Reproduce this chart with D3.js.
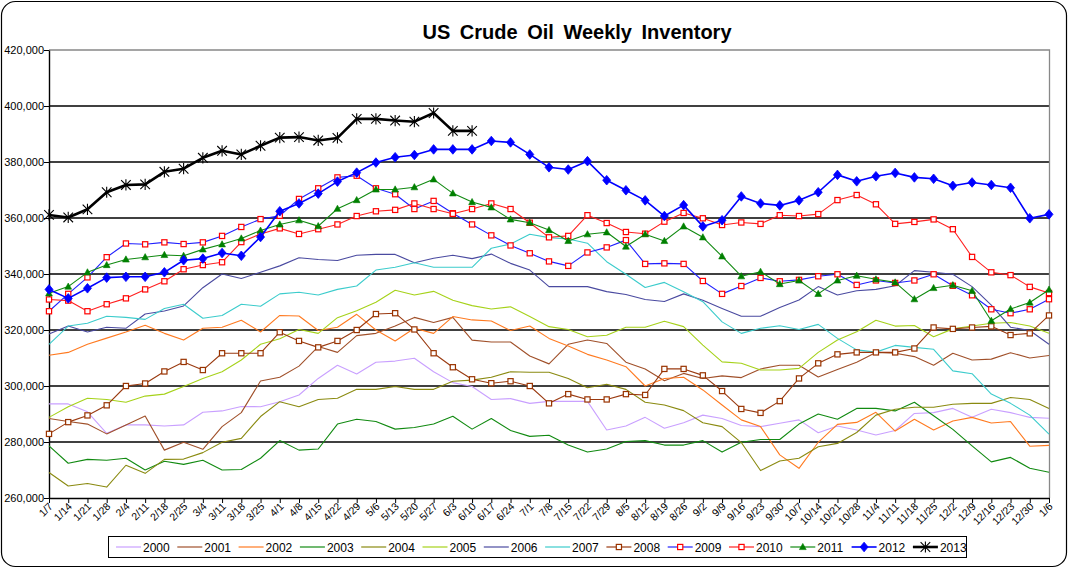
<!DOCTYPE html>
<html><head><meta charset="utf-8">
<script src="https://cdn.jsdelivr.net/npm/d3@7"></script>
<style>
body{margin:0;background:#fff;}
svg text{font-family:"Liberation Sans",Arial,sans-serif;}
</style></head>
<body><svg id="c" width="1070" height="570"></svg>
<script>
const categories = ["1/7","1/14","1/21","1/28","2/4","2/11","2/18","2/25","3/4","3/11","3/18","3/25","4/1","4/8","4/15","4/22","4/29","5/6","5/13","5/20","5/27","6/3","6/10","6/17","6/24","7/1","7/8","7/15","7/22","7/29","8/5","8/12","8/19","8/26","9/2","9/9","9/16","9/23","9/30","10/7","10/14","10/21","10/28","11/4","11/11","11/18","11/25","12/2","12/9","12/16","12/23","12/30","1/6"];
const yTicks = [260,280,300,320,340,360,380,400,420]; // thousands of barrels

const s2000 = [293.6,293.6,290.8,283.1,286.1,286.1,285.7,286.1,290.6,291.1,292.7,292.6,294.4,296.8,302.7,307.4,304.3,308.5,308.9,309.9,305.1,301.2,299.8,295.2,295.5,293.8,294.5,294.5,294.5,284.3,285.7,288.8,284.9,286.9,289.6,288.4,285.9,285.5,286.7,287.9,283.3,285.7,284.3,282.5,284.1,290.2,290.5,292,288.8,291.7,290.5,288.8,288.5];
const s2001 = [288.4,287.3,286.4,282.9,286.1,289.3,277.1,279.9,277.4,285.5,290.5,301.8,303.1,307.1,314.1,312,318,318.8,321.4,324.5,322.7,324.5,316.4,315.7,315.7,310.7,307.9,314.9,316.4,315.2,308.5,306.1,301.9,304.5,302.7,303.6,303,306.1,307.4,307.4,303.2,305.9,308.5,312,311.7,310.5,307.4,311.7,309.3,309.6,311.9,310,310.9];
const s2002 = [311,312,314.9,317.1,319.3,321.7,318.8,316.4,320.6,321,323.5,319.3,325.2,325,319.8,321,325.6,320,316.1,320.6,318.8,324.8,323.6,323.2,319.8,321.4,317,314.3,311.3,309.3,306.9,300,302.7,303.1,298.6,293.2,287.9,285.5,275.4,270.6,279.9,286.3,287,290.6,283.9,288.1,284.3,287.5,288.8,286.8,287.3,278.5,278.8];
const s2003 = [278.6,272.4,273.8,273.5,274.2,270,273.1,272,273.5,270,270.2,274.2,280.5,277.1,277.5,286.4,288.1,287.3,284.6,285.2,286.4,289.2,284.6,288.4,284.1,282,282.4,278.9,276.4,277.5,280.2,280.5,278.9,278.9,280.5,276.4,279.9,280.9,280.9,286.4,290,288.1,292,292,291.1,294.2,289.4,284.5,278.6,272.9,274.5,270.6,269.2];
const s2004 = [269.1,264.3,265.2,263.9,271.7,268.8,273.8,273.9,276.2,279.9,281.3,289.1,294.4,292.6,295.2,295.6,298.8,298.8,299.8,298.8,298.8,301.7,302.1,303.1,305.1,304.9,304.9,302.7,299.4,300.6,298.8,294.2,293.2,291.2,286.9,285.5,279.8,269.8,273.2,274.2,278.3,279.5,283.4,289.6,291.7,292.4,292.4,293.5,293.8,293.8,295.9,295.2,292];
const s2005 = [288.8,292.6,295.6,295.2,294.2,296.4,297.1,299.8,302.7,305.1,309.3,314.9,316.9,320.2,318.8,324.4,326.9,329.9,334.2,332.5,333.8,330.6,328.7,327.5,328.3,324.8,321.2,320.2,317.6,318.1,321,321,323.1,321.2,314.6,308.6,308.1,305.7,305.7,306.3,312,316.4,319.4,323.5,321.4,321.6,317.6,320.4,321.4,322.4,322.7,321.4,318.8];
const s2006 = [318.6,321.4,319.3,321,320.6,325.7,326.8,328.6,335.1,340,338.4,340.6,342.9,345.8,345.2,344.8,346.7,347,347,344,345.6,346.7,345.5,347.1,343.8,341.4,335.5,335.5,335.5,333.7,332.7,330.9,330.2,332.9,330.6,327.7,324.9,324.9,328,330.7,335.5,332.5,334,334.5,335.8,341.2,340.6,339.9,335.5,328.9,321,319.8,314.9];
const s2007 = [314.9,321.4,322.4,324.9,324.5,323.8,327.7,329.2,324.2,325.2,329.2,328.5,332.9,333.5,332.5,334.5,335.7,341.4,342.4,344,342.4,342.4,342.4,349.2,350.7,354.2,353,352.5,351,344.4,339.9,335.2,337,333.7,330.1,322.9,318.8,320.6,321.5,320.2,322,317,312.9,312.1,314.5,313.8,313.1,305.4,304.4,297.1,293.8,289.6,282.8];
const s2008 = [282.9,287.1,289.5,293.1,300,300.9,305.2,308.6,305.7,311.7,311.7,311.7,319.2,316.1,313.8,316.1,320,325.7,326,320.2,311.7,306.7,302.4,301,301.7,300,293.8,297.1,295.2,295.2,297.1,296.8,306.1,306.1,303.8,298.2,291.8,290.4,294.6,302.7,308.1,311.3,312,312,312,313.4,320.9,320.4,320.9,321.3,318.2,318.8,325.2];
const s2009 = [326.7,332.9,338.8,346,350.9,350.6,351.3,350.7,351.3,353.6,356.8,359.6,360.8,366.8,370.6,374.5,375.1,370.6,368.5,363.2,366.1,361.7,357.7,353.8,350.2,347.4,344.5,342.9,347.7,349.5,352.1,343.6,343.8,343.6,337.5,332.9,335.7,338.6,337.4,337.9,339.2,339.9,336.1,337.7,336.8,337.7,339.9,335.8,332.4,327.4,326,327.4,331];
const s2010 = [330.9,330.5,326.7,329.2,331.3,334.5,337.4,341.7,343.2,344.2,351.4,354.3,356.3,354.3,356,357.7,360.7,362.4,362.9,365.2,363.2,361.5,363.2,365.2,363.2,358.3,353.1,353.6,361,358.2,355,354.4,358.7,361.8,359.9,357.5,358.4,357.9,361,360.7,361.4,366.4,368.2,364.9,357.9,358.6,359.5,356,346.1,340.6,339.6,335.4,333.2];
const s2011 = [333.1,335.5,340.6,343.2,345.2,346,346.8,346.5,348.8,350.6,352.7,355.5,357.7,359.2,357.1,363.3,366.4,370.2,370.2,371,373.8,368.8,365.7,363.8,359.5,358.3,355.7,351.8,354.2,354.9,349.8,354.2,351.8,357,353.1,346.3,339.2,340.8,336.4,337.7,332.9,337.7,339.4,338.1,337,331,335,336,334,323.3,327.5,329.8,334.4];
const s2012 = [334.5,331.3,334.9,338.7,339,339,340.6,344.9,345.5,347.5,346.5,353.2,362.4,365.2,368.7,373,376.2,379.8,381.7,382.5,384.5,384.5,384.5,387.5,387,382.7,378.1,377.3,380.3,373.5,369.9,366.3,360.7,364.6,357,359.2,367.7,365.2,364.5,366.3,369.2,375.4,373.1,374.9,376.1,374.5,374,371.5,372.7,371.8,370.8,359.9,361.3];
const s2013 = [361.1,360.2,363.1,369.2,371.8,372,376.5,377.6,381.5,384,382.7,385.8,388.7,388.9,387.7,388.6,395.4,395.4,394.8,394.4,397.5,391.1,391.1];

const series = [
  {name:"2000", data:s2000, line:"#C9A0FF", w:1.1, marker:null},
  {name:"2001", data:s2001, line:"#A0502A", w:1.1, marker:null},
  {name:"2002", data:s2002, line:"#FF7A20", w:1.1, marker:null},
  {name:"2003", data:s2003, line:"#118A11", w:1.1, marker:null},
  {name:"2004", data:s2004, line:"#8A8A10", w:1.1, marker:null},
  {name:"2005", data:s2005, line:"#A6D21A", w:1.1, marker:null},
  {name:"2006", data:s2006, line:"#4A4AA0", w:1.1, marker:null},
  {name:"2007", data:s2007, line:"#3CCCCC", w:1.1, marker:null},
  {name:"2008", data:s2008, line:"#9A3A10", w:1.1, marker:"sq", mStroke:"#993300", mFill:"#fff"},
  {name:"2009", data:s2009, line:"#2020FF", w:1.1, marker:"sq", mStroke:"#FF0000", mFill:"#fff"},
  {name:"2010", data:s2010, line:"#FF2020", w:1.1, marker:"sq", mStroke:"#FF0000", mFill:"#fff"},
  {name:"2011", data:s2011, line:"#118A11", w:1.1, marker:"tri", mStroke:"#008000", mFill:"#008000"},
  {name:"2012", data:s2012, line:"#0000FF", w:1.6, marker:"dia", mStroke:"#0000FF", mFill:"#0000FF"},
  {name:"2013", data:s2013, line:"#000000", w:2.6, marker:"star", mStroke:"#000000", mFill:"none"}
];

const svg = d3.select("#c");
svg.append("rect").attr("x",1.5).attr("y",1.5).attr("width",1065).attr("height",565)
  .attr("rx",14).attr("fill","#fff").attr("stroke","#000").attr("stroke-width",1.2);

svg.append("text").attr("x",577).attr("y",38.5).attr("text-anchor","middle")
  .attr("font-size",20).attr("font-weight","bold").attr("word-spacing",4)
  .text("US Crude Oil Weekly Inventory");

const x = d3.scalePoint().domain(categories).range([49,1049]);
const y = d3.scaleLinear().domain([260,420]).range([498,50]);

// gridlines
svg.append("g").selectAll("line").data(yTicks.slice(1,-1)).join("line")
  .attr("x1",49).attr("x2",1049).attr("y1",d=>y(d)).attr("y2",d=>y(d))
  .attr("stroke","#000").attr("stroke-width",1.4);
// plot border top/right (gray)
svg.append("path").attr("d",`M49,${y(420)}H1049.5V498`).attr("fill","none")
  .attr("stroke","#888").attr("stroke-width",1.3);

// Y axis
const yAxis = d3.axisLeft(y).tickValues(yTicks).tickSize(5).tickSizeOuter(0)
  .tickFormat(d=>d3.format(",")(d*1000));
const gy = svg.append("g").attr("transform","translate(49,0)").call(yAxis);
gy.select(".domain").attr("stroke","#000").attr("stroke-width",1.4);
gy.selectAll(".tick line").attr("stroke","#000");
gy.selectAll("text").attr("font-size",11).attr("fill","#000").attr("x",-5)
  .attr("font-family","'Liberation Sans',Arial,sans-serif");

// X axis
const xAxis = d3.axisBottom(x).tickSize(5).tickSizeOuter(0);
const gx = svg.append("g").attr("transform","translate(0,498)").call(xAxis);
gx.select(".domain").attr("stroke","#000").attr("stroke-width",1.4);
gx.selectAll(".tick line").attr("stroke","#000");
gx.selectAll("text").attr("font-size",10.5).attr("fill","#000")
  .attr("font-family","'Liberation Sans',Arial,sans-serif")
  .attr("text-anchor","end").attr("dy",0).attr("y",0)
  .attr("transform","translate(4,9) rotate(-45)");

const lineGen = d3.line().x((d,i)=>x(categories[i])).y(d=>y(d));

function drawMarker(g, type, cx, cy, s) {
  if (type==="sq") {
    g.append("rect").attr("x",cx-2.6).attr("y",cy-2.6).attr("width",5.2).attr("height",5.2)
      .attr("fill",s.mFill).attr("stroke",s.mStroke).attr("stroke-width",1.2);
  } else if (type==="tri") {
    g.append("path").attr("d",`M${cx},${cy-3.6}L${cx+3.4},${cy+2.6}L${cx-3.4},${cy+2.6}Z`)
      .attr("fill",s.mFill).attr("stroke",s.mStroke).attr("stroke-width",0.6);
  } else if (type==="dia") {
    g.append("path").attr("d",`M${cx},${cy-4.8}L${cx+4},${cy}L${cx},${cy+4.8}L${cx-4},${cy}Z`)
      .attr("fill",s.mFill).attr("stroke",s.mStroke).attr("stroke-width",0.8);
  } else if (type==="star") {
    const r=4.8;
    g.append("path").attr("d",`M${cx-r},${cy-r}L${cx+r},${cy+r}M${cx-r},${cy+r}L${cx+r},${cy-r}M${cx},${cy-r-0.8}L${cx},${cy+r+0.8}`)
      .attr("fill","none").attr("stroke",s.mStroke).attr("stroke-width",1.1);
  }
}

const plot = svg.append("g");
series.forEach(s=>{
  const g = plot.append("g");
  g.append("path").attr("d",lineGen(s.data)).attr("fill","none")
    .attr("stroke",s.line).attr("stroke-width",s.w).attr("stroke-linejoin","round");
  if (s.marker) s.data.forEach((v,i)=>drawMarker(g, s.marker, x(categories[i]), y(v), s));
});

// Legend
const lg = svg.append("g");
lg.append("rect").attr("x",108.5).attr("y",536.5).attr("width",858).attr("height",21)
  .attr("fill","#fff").attr("stroke","#000").attr("stroke-width",1);
series.forEach((s,i)=>{
  const x0 = 116 + i*61.3, cy = 547;
  const g = lg.append("g");
  g.append("line").attr("x1",x0).attr("x2",x0+25).attr("y1",cy).attr("y2",cy)
    .attr("stroke",s.line).attr("stroke-width",Math.max(1.2,s.w));
  if (s.marker) drawMarker(g, s.marker, x0+12.5, cy, s);
  g.append("text").attr("x",x0+27).attr("y",cy+4.5).attr("font-size",12).text(s.name);
});
</script>
</body></html>
